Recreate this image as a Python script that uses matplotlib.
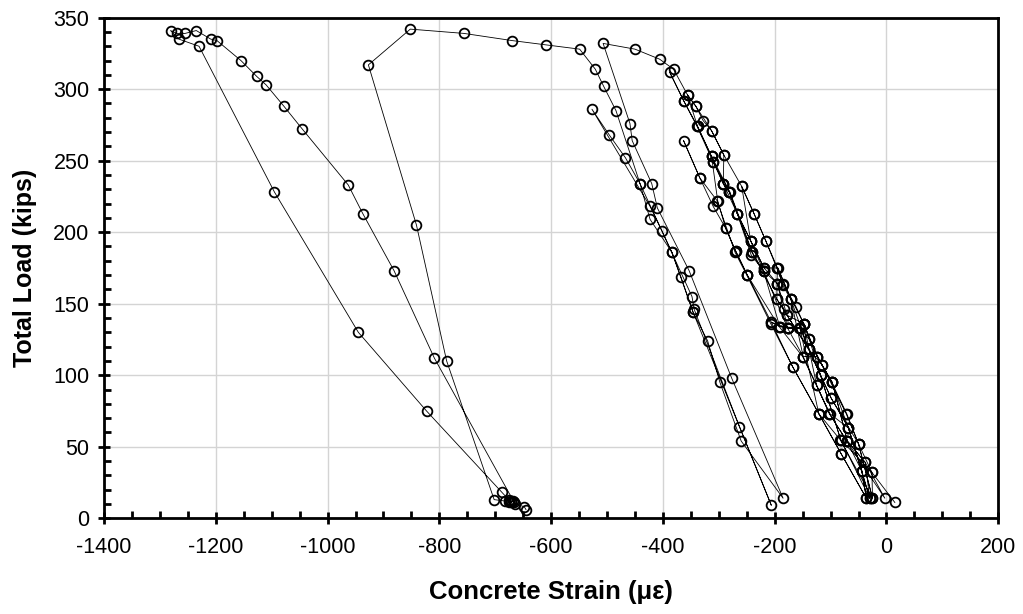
import matplotlib
matplotlib.use("Agg")
from matplotlib import pyplot as plt
from matplotlib.ticker import MultipleLocator

# right band: early load cycles (strain in microstrain, load in kips)
strain_1 = [15, -26, -50, -71, -98, -115, -138, -148,
            -156, -176, -191, -206,
            -168, -121, -81, -36,
            -44, -68, -99, -118, -139, -178, -183, -196, -196, -195,
            -186, -171, -149, -125, -102, -71, -3,
            -38, -70, -97, -124, -148, -162, -185, -216, -237, -259,
            -243, -220, -177, -155, -121, -83, -25,
            -50, -72, -115, -139, -171, -194, -219, -243, -267, -281, -292, -310, -313,
            -302, -288, -270, -249, -192, -150, -101, -68, -30,
            -44, -71, -102, -125, -148, -178, -195, -220, -242, -267, -292, -291, -313, -328, -341, -356,
            -338, -313, -280, -240, -196, -139, -99, -50, -25,
            -26, -82, -118, -138, -155, -176, -206, -249, -270, -288, -310, -334, -363,
            -334, -303, -271, -250, -207, -168, -121, -81, -36,
            -44, -68, -98, -124, -149, -177, -195, -219, -243, -267, -281, -292, -313, -338, -363, -388,
            -363, -339, -310, -281, -241, -220, -191, -155, -118, -82, -30,
            -38, -70, -97, -124, -148, -170, -195, -216, -237, -259, -291, -313, -341, -356, -381,
            -406, -450, -507]
load_1 = [11, 32, 52, 73, 95, 107, 125, 136,
          133, 133, 134, 137,
          106, 73, 45, 14,
          33, 63, 84, 100, 118, 142, 146, 153, 164, 175,
          163, 153, 113, 93, 73, 54, 14,
          39, 54, 95, 113, 136, 148, 164, 194, 213, 232,
          194, 173, 133, 133, 73, 55, 14,
          52, 73, 107, 118, 153, 175, 175, 194, 213, 228, 234, 249, 253,
          222, 203, 187, 170, 134, 113, 73, 63, 14,
          33, 54, 73, 93, 136, 142, 164, 173, 184, 213, 234, 254, 271, 278, 288, 296,
          274, 253, 228, 186, 153, 118, 84, 52, 14,
          32, 55, 100, 125, 133, 133, 137, 170, 187, 203, 218, 238, 264,
          238, 222, 186, 170, 136, 106, 73, 45, 14,
          33, 63, 95, 113, 113, 133, 164, 175, 194, 213, 228, 234, 253, 274, 292, 312,
          292, 274, 249, 228, 186, 173, 134, 133, 100, 55, 14,
          39, 54, 95, 113, 136, 153, 175, 194, 213, 232, 254, 271, 288, 296, 314,
          321, 328, 332]

# middle band and the large excursion to the left
strain_2 = [-459, -455, -420, -410, -353, -277, -185,
            -260, -298, -320, -346, -368, -384, -423, -441, -467, -496, -527,
            -423, -402, -348, -344, -263, -206,
            -346, -384, -441, -484, -506, -521, -549, -610, -670, -756, -852, -927,
            -841, -787, -702, -682, -676, -671, -666,
            -809, -881, -937, -963, -1045, -1078, -1110, -1127, -1155, -1198, -1209,
            -1235, -1255, -1270, -1281, -1266, -1230,
            -1095, -945, -823, -688, -676, -672, -668, -664, -648, -645]
load_2 = [276, 264, 234, 217, 173, 98, 14,
          54, 95, 124, 144, 169, 186, 209, 234, 252, 268, 286,
          218, 201, 155, 146, 64, 9,
          144, 186, 234, 285, 302, 314, 328, 331, 334, 339, 342, 317,
          205, 110, 13, 12, 11, 12, 11,
          112, 173, 213, 233, 272, 288, 303, 309, 320, 334, 335,
          341, 339, 339, 341, 335, 330,
          228, 130, 75, 18, 13, 11, 12, 10, 8, 6]

strain = strain_1 + strain_2
load = load_1 + load_2

plt.rcParams['font.family'] = ['Liberation Sans', 'DejaVu Sans']
plt.rcParams['axes.unicode_minus'] = False

fig = plt.figure(figsize=(10.23, 6.14), dpi=100)
ax = fig.add_axes([0.1017, 0.156, 0.8741, 0.8152])

ax.plot(strain, load, color="black", linewidth=0.6, marker="o", markersize=7,
        markerfacecolor="none", markeredgecolor="black", markeredgewidth=1.3)

ax.set_xlim(-1400, 200)
ax.set_ylim(0, 350)
ax.xaxis.set_major_locator(MultipleLocator(200))
ax.xaxis.set_minor_locator(MultipleLocator(50))
ax.yaxis.set_major_locator(MultipleLocator(50))
ax.yaxis.set_minor_locator(MultipleLocator(10))

ax.grid(True, which="major", color="#d4d4d4", linewidth=1.0)
ax.set_axisbelow(True)
for side in ["left", "right", "top", "bottom"]:
    ax.spines[side].set_linewidth(2.0)
ax.tick_params(which="major", direction="inout", length=9, width=2.0, labelsize=15.5, pad=6)
ax.tick_params(which="minor", direction="in", length=5, width=2.0)
ax.tick_params(axis="x", which="major", pad=9)

ax.set_xlabel("Concrete Strain (\u03bc\u03b5)", fontsize=18.5, fontweight="bold", labelpad=16)
ax.set_ylabel("Total Load (kips)", fontsize=18, fontweight="bold", labelpad=12)

fig.savefig("out.png", dpi=100)
